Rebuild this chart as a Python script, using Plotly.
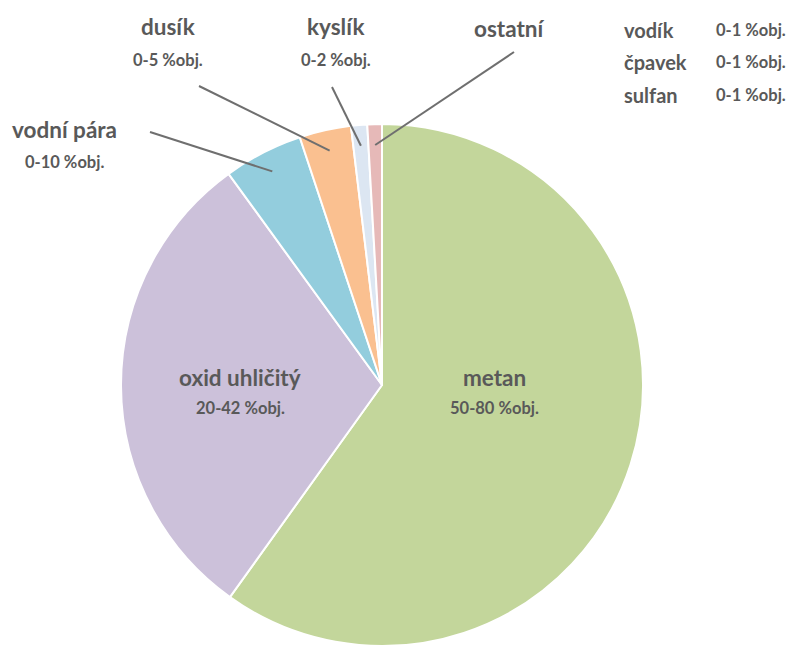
import math
import plotly.graph_objects as go

# ---- data ----
names = ["metan", "oxid uhličitý", "vodní pára", "dusík", "kyslík", "ostatní"]
values = [59.9, 30.1, 4.9, 3.2, 1.0, 0.9]
ranges = ["50-80 %obj.", "20-42 %obj.", "0-10 %obj.", "0-5 %obj.", "0-2 %obj.", ""]
colors = ["#C3D69B", "#CCC1DA", "#93CDDD", "#FAC090", "#DCE6F2", "#E6B9B8"]
other_names = ["vodík", "čpavek", "sulfan"]
other_ranges = ["0-1 %obj.", "0-1 %obj.", "0-1 %obj."]

W, H = 791, 650
CX, CY, R = 382, 385, 261
TXT = "#595959"
FONT = "Lato"
BIG, SMALL = 22.5, 16.5


def px(x, y):
    return x / W, 1 - y / H


fig = go.Figure(go.Pie(
    labels=names, values=values, sort=False, direction="clockwise", rotation=0,
    marker=dict(colors=colors, line=dict(color="white", width=2)),
    textinfo="none", hoverinfo="none", showlegend=False,
    domain=dict(x=[(CX - R) / W, (CX + R) / W], y=[1 - (CY + R) / H, 1 - (CY - R) / H]),
))

annotations = []
shapes = []

# inside labels
inside = {0: (494, 377, 408), 1: (240, 377, 408)}
for i, (x, y1, y2) in inside.items():
    annotations.append(dict(x=px(x, y1)[0], y=px(x, y1)[1], text=f"<b>{names[i]}</b>",
                            font=dict(size=BIG, color=TXT, family=FONT), showarrow=False,
                            xanchor="center", yanchor="middle"))
    annotations.append(dict(x=px(x, y2)[0], y=px(x, y2)[1], text=f"<b>{ranges[i]}</b>",
                            font=dict(size=SMALL, color=TXT, family=FONT), showarrow=False,
                            xanchor="center", yanchor="middle"))

# outside labels: (label center x, name y, range y, line start x, line start y)
outside = {
    2: (64, 130, 162, 150, 132),
    3: (168, 27, 60, 199, 86),
    4: (336, 27, 60, 332, 87),
    5: (510, 28, None, 514, 52),
}
total = sum(values)
cum = 0
mids = []
for v in values:
    mids.append((cum + v / 2) / total * 2 * math.pi)
    cum += v

for i, (lx, ny, ry, sx, sy) in outside.items():
    annotations.append(dict(x=px(lx, ny)[0], y=px(lx, ny)[1], text=f"<b>{names[i]}</b>",
                            font=dict(size=BIG, color=TXT, family=FONT), showarrow=False,
                            xanchor="center", yanchor="middle"))
    if ry is not None and ranges[i]:
        annotations.append(dict(x=px(lx, ry)[0], y=px(lx, ry)[1], text=f"<b>{ranges[i]}</b>",
                                font=dict(size=SMALL, color=TXT, family=FONT), showarrow=False,
                                xanchor="center", yanchor="middle"))
    a = mids[i]
    rr = 0.92 * R
    ex, ey = CX + rr * math.sin(a), CY - rr * math.cos(a)
    x0, y0 = px(sx, sy)
    x1, y1 = px(ex, ey)
    shapes.append(dict(type="line", xref="paper", yref="paper", x0=x0, y0=y0, x1=x1, y1=y1,
                       line=dict(color="#6f6f6f", width=2)))

# other gases list
for k, (n, r) in enumerate(zip(other_names, other_ranges)):
    y = 30 + k * 32.5
    annotations.append(dict(x=px(622, y)[0], y=px(622, y)[1], text=f"<b>{n}</b>",
                            font=dict(size=20, color=TXT, family=FONT), showarrow=False,
                            xanchor="left", yanchor="middle"))
    annotations.append(dict(x=px(714, y)[0], y=px(714, y)[1], text=f"<b>{r}</b>",
                            font=dict(size=SMALL, color=TXT, family=FONT), showarrow=False,
                            xanchor="left", yanchor="middle"))

fig.update_layout(width=W, height=H, margin=dict(l=0, r=0, t=0, b=0),
                  paper_bgcolor="white", plot_bgcolor="white",
                  annotations=annotations, shapes=shapes)

fig.write_html("out.html")
